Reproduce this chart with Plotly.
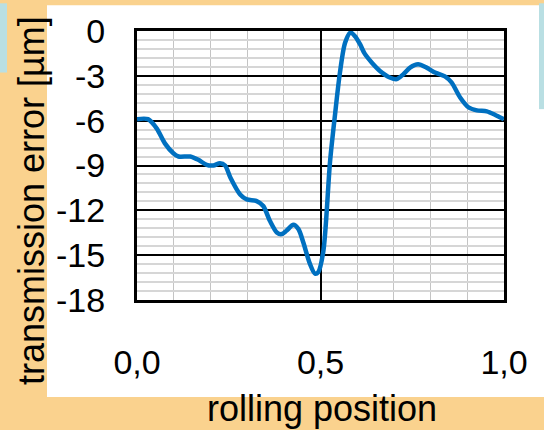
import plotly.graph_objects as go

# Transmission error over one rolling position (normalised 0..1)
rolling_position = [
    0.000, 0.030, 0.054, 0.076, 0.099, 0.113, 0.145, 0.167, 0.190, 0.208,
    0.226, 0.240, 0.255, 0.281, 0.299, 0.326, 0.344, 0.362, 0.381, 0.394,
    0.407, 0.426, 0.440, 0.453, 0.471, 0.485, 0.494, 0.508, 0.526, 0.540,
    0.553, 0.567, 0.582, 0.594, 0.608, 0.620, 0.640, 0.662, 0.689, 0.708,
    0.726, 0.744, 0.766, 0.789, 0.812, 0.839, 0.857, 0.880, 0.903, 0.926,
    0.953, 0.975, 1.000,
]
transmission_error = [
    -5.90, -5.90, -6.53, -7.52, -8.18, -8.40, -8.40, -8.62, -8.96, -9.00,
    -8.85, -9.00, -9.84, -10.94, -11.27, -11.38, -11.71, -12.70, -13.48, -13.59,
    -13.37, -12.97, -13.26, -14.14, -15.57, -16.24, -16.13, -14.69, -8.74, -5.50,
    -2.78, -0.79, -0.10, -0.35, -0.90, -1.50, -2.12, -2.67, -3.11, -3.22,
    -2.89, -2.45, -2.23, -2.45, -2.78, -3.04, -3.44, -4.43, -5.10, -5.31,
    -5.38, -5.60, -5.91,
]

x_tickvals = [0.0, 0.5, 1.0]
x_ticktext = ["0,0", "0,5", "1,0"]
y_tickvals = [0, -3, -6, -9, -12, -15, -18]
y_ticktext = ["0", "-3", "-6", "-9", "-12", "-15", "-18"]

x_title = "rolling position"
y_title = "transmission error [µm]"

W, H = 544, 430
ML, MR, MT, MB = 137, 40, 28, 130
PW, PH = W - ML - MR, H - MT - MB

ORANGE = "#FAD28E"
LIGHT_BLUE = "#B9DFE3"
LINE_BLUE = "#0070C0"
FONT = "Liberation Sans, Arial, sans-serif"


def px_x(p):
    return (p - ML) / PW


def px_y(p):
    return (H - MB - p) / PH


fig = go.Figure()
fig.add_trace(go.Scatter(
    x=rolling_position,
    y=transmission_error,
    mode="lines",
    line=dict(color=LINE_BLUE, width=4.5, shape="spline", smoothing=0.8),
    hoverinfo="skip",
    showlegend=False,
))

# background panels
shapes = [
    dict(type="rect", xref="paper", yref="paper", layer="below",
         x0=px_x(47), x1=px_x(W), y0=px_y(398), y1=px_y(2),
         fillcolor="white", line=dict(width=0)),
    dict(type="rect", xref="paper", yref="paper", layer="below",
         x0=px_x(0), x1=px_x(7), y0=px_y(70), y1=px_y(0),
         fillcolor=LIGHT_BLUE, line=dict(width=0)),
    dict(type="rect", xref="paper", yref="paper", layer="below",
         x0=px_x(539), x1=px_x(W), y0=px_y(107), y1=px_y(0),
         fillcolor=LIGHT_BLUE, line=dict(width=0)),
]

annotations = [
    dict(text=x_title, xref="paper", yref="paper",
         x=px_x(322), y=px_y(410), xanchor="center", yanchor="middle",
         showarrow=False, font=dict(family=FONT, size=36, color="black")),
    dict(text=y_title, xref="paper", yref="paper", textangle=-90,
         x=px_x(31), y=px_y(200), xanchor="center", yanchor="middle",
         showarrow=False, font=dict(family=FONT, size=36, color="black")),
]

fig.update_layout(
    width=W, height=H,
    margin=dict(l=ML, r=MR, t=MT, b=MB, pad=0),
    paper_bgcolor=ORANGE,
    plot_bgcolor="white",
    shapes=shapes,
    annotations=annotations,
    font=dict(family=FONT, size=34, color="black"),
)

fig.update_xaxes(
    range=[0, 1],
    tickmode="array", tickvals=x_tickvals, ticktext=x_ticktext,
    ticks="", ticklabelstandoff=30,
    showgrid=True, gridcolor="black", gridwidth=2,
    minor=dict(tick0=0, dtick=0.1, showgrid=True, gridcolor="#C4C4C4", gridwidth=1.2),
    zeroline=False,
    showline=True, linecolor="black", linewidth=3, mirror=True,
    tickfont=dict(family=FONT, size=34, color="black"),
)
fig.update_yaxes(
    range=[-18, 0],
    tickmode="array", tickvals=y_tickvals, ticktext=y_ticktext,
    ticks="", ticklabelstandoff=22,
    showgrid=True, gridcolor="black", gridwidth=2,
    minor=dict(tick0=0, dtick=0.6, showgrid=True, gridcolor="#D6D6D6", gridwidth=1.6),
    zeroline=False,
    showline=True, linecolor="black", linewidth=3, mirror=True,
    tickfont=dict(family=FONT, size=34, color="black"),
)

fig.write_html("out.html")
